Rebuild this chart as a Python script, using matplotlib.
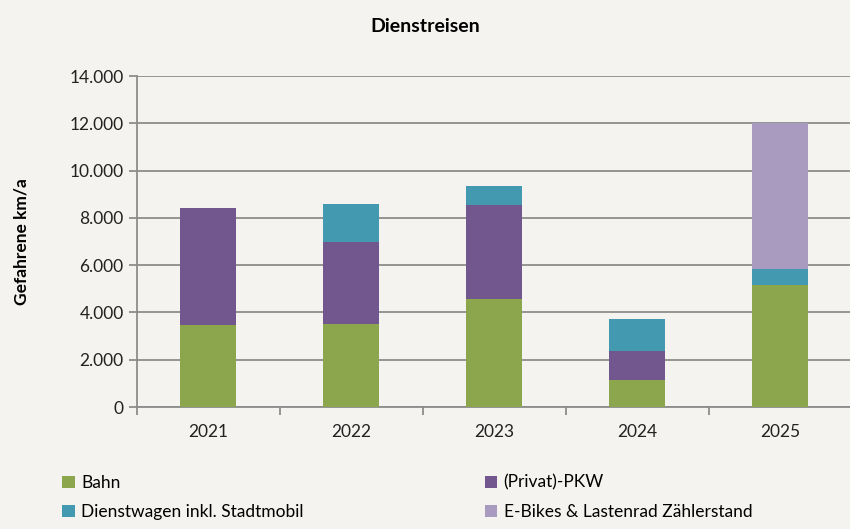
import matplotlib.pyplot as plt
from matplotlib.ticker import FuncFormatter
import numpy as np

years = ["2021", "2022", "2023", "2024", "2025"]
bahn = [3450, 3500, 4550, 1160, 5180]
pkw = [4970, 3500, 4010, 1190, 0]
dienstwagen = [0, 1570, 780, 1380, 640]
ebikes = [0, 0, 0, 0, 6180]

series = [
    ("Bahn", bahn, "#8ba64c"),
    ("(Privat)-PKW", pkw, "#72578f"),
    ("Dienstwagen inkl. Stadtmobil", dienstwagen, "#4399b0"),
    ("E-Bikes & Lastenrad Zählerstand", ebikes, "#a99abf"),
]

bg = "#f4f3ef"
plt.rcParams['font.family'] = ['Lato', 'DejaVu Sans']

fig = plt.figure(figsize=(8.5, 5.29), dpi=100, facecolor=bg)
ax = fig.add_axes([0.161, 0.2306, 0.841, 0.6257], facecolor=bg)

x = np.arange(len(years))
bottom = np.zeros(len(years))
handles = []
for name, vals, col in series:
    b = ax.bar(x, vals, 0.39, bottom=bottom, color=col, label=name, zorder=3)
    handles.append(b)
    bottom += np.array(vals)

ax.set_xlim(-0.5, 4.5)
ax.set_ylim(0, 14000)
ax.set_yticks(range(0, 14001, 2000))
ax.yaxis.set_major_formatter(FuncFormatter(lambda v, p: f"{int(v):,}".replace(",", ".")))
ax.grid(axis='y', color='#8c8c8c', linewidth=1.3, zorder=0)

ax.set_xticks(x)
ax.set_xticklabels(years)
ax.set_xticks(np.arange(-0.5, 4.6, 1), minor=True)
ax.tick_params(axis='x', which='major', length=0, pad=12, labelsize=12.5, colors='#222222')
ax.tick_params(axis='x', which='minor', length=6, width=1.3, color='#8c8c8c', direction='out')
ax.tick_params(axis='y', length=6, width=1.3, color='#8c8c8c', labelsize=12.5, labelcolor='#222222')

for s in ['top', 'right']:
    ax.spines[s].set_visible(False)
for s in ['left', 'bottom']:
    ax.spines[s].set_color('#8c8c8c')
    ax.spines[s].set_linewidth(1.3)

ax.set_ylabel("Gefahrene km/a", fontsize=12.5, fontweight='bold')
ax.yaxis.set_label_coords(-0.15, 0.5)
fig.text(0.5, 0.95, "Dienstreisen", ha='center', va='center', fontsize=14, fontweight='bold')

# order so the column-major legend reads row by row
order = [0, 2, 1, 3]
fig.legend(handles=[handles[i] for i in order], labels=[series[i][0] for i in order], ncol=2,
           loc='lower left', bbox_to_anchor=(0.055, -0.012), frameon=False,
           fontsize=12.5, handlelength=0.7, handleheight=0.7, handletextpad=0.4,
           columnspacing=10.4, labelspacing=0.75)

fig.savefig("out.png", dpi=100, facecolor=bg)
